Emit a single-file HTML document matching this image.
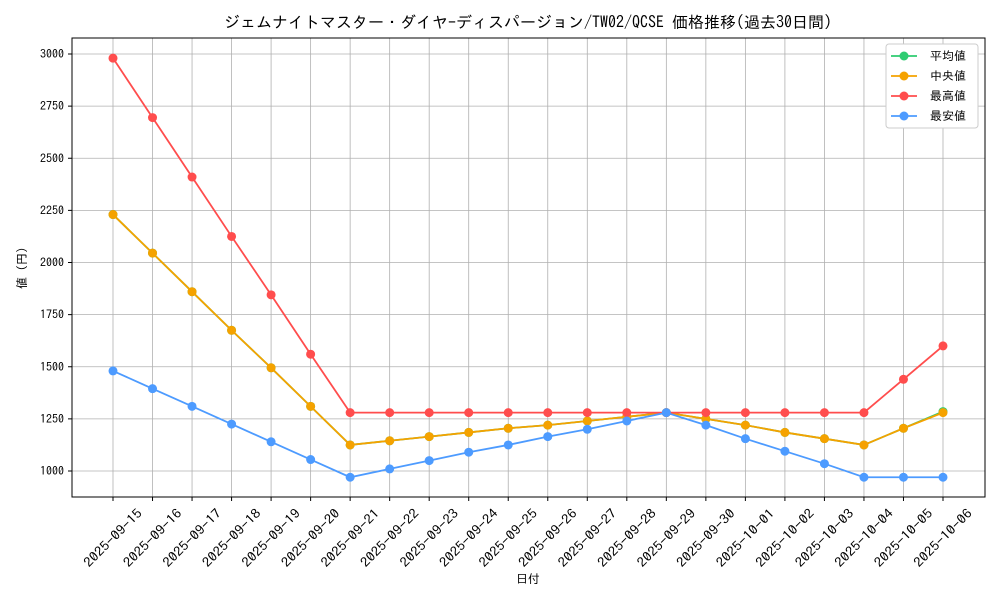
<!DOCTYPE html>
<html><head><meta charset="utf-8"><style>
body{margin:0;background:#fff}
svg{display:block;font-family:"IPAGothic","Noto Sans CJK JP",monospace}
</style></head><body>
<svg id="chart" width="1000" height="600">
<rect width="1000" height="600" fill="#fff"/>
<text x="528" y="28" text-anchor="middle" font-size="16" fill="#000">ジェムナイトマスター・ダイヤ-ディスパージョン/TW02/QCSE 価格推移(過去30日間)</text>
<g id="grid"></g><g id="axes"></g><g id="series"></g>
<rect x="72" y="38" width="913" height="459" fill="none" stroke="#000" stroke-width="1"/>
<text x="528" y="583" text-anchor="middle" font-size="12">日付</text>
<text transform="translate(26,268) rotate(-90)" text-anchor="middle" font-size="12">値 (円)</text>
<g id="legend"></g>
</svg>
<script>
const categories=["2025-09-15","2025-09-16","2025-09-17","2025-09-18","2025-09-19","2025-09-20","2025-09-21","2025-09-22","2025-09-23","2025-09-24","2025-09-25","2025-09-26","2025-09-27","2025-09-28","2025-09-29","2025-09-30","2025-10-01","2025-10-02","2025-10-03","2025-10-04","2025-10-05","2025-10-06"];
const meanVals=[2230,2045,1860,1675,1495,1310,1125,1145,1165,1185,1205,1220,1240,1260,1280,1250,1220,1185,1155,1125,1205,1285];
const medianVals=[2230,2045,1860,1675,1495,1310,1125,1145,1165,1185,1205,1220,1240,1260,1280,1250,1220,1185,1155,1125,1205,1280];
const maxVals=[2980,2695,2410,2125,1845,1560,1280,1280,1280,1280,1280,1280,1280,1280,1280,1280,1280,1280,1280,1280,1440,1600];
const minVals=[1480,1395,1310,1225,1140,1055,970,1010,1050,1090,1125,1165,1200,1240,1280,1220,1155,1095,1035,970,970,970];
const yTicks=[1000,1250,1500,1750,2000,2250,2500,2750,3000];
const seriesNames=["平均値","中央値","最高値","最安値"];
const NS="http://www.w3.org/2000/svg";
const x=i=>113+i*(943-113)/(categories.length-1);
const y=v=>471-(v-1000)*(471-54)/2000;
function mk(tag,attrs,parent,txt){const e=document.createElementNS(NS,tag);for(const k in attrs)e.setAttribute(k,attrs[k]);if(txt!==undefined)e.textContent=txt;parent.appendChild(e);return e;}
const grid=document.getElementById('grid'),axes=document.getElementById('axes'),ser=document.getElementById('series'),leg=document.getElementById('legend');
yTicks.forEach(t=>{
 const l=mk('line',{x1:72,x2:985,y1:y(t),y2:y(t),stroke:'#b0b0b0','stroke-width':0.8},grid);
 
 
 mk('line',{x1:68,x2:72,y1:y(t),y2:y(t),stroke:'#000'},axes);
 const tx=mk('text',{x:64,y:y(t)+4,'text-anchor':'end','font-size':12},axes,String(t));
 
 
});
categories.forEach((c,i)=>{
 const l=mk('line',{x1:x(i),x2:x(i),y1:38,y2:497,stroke:'#b0b0b0','stroke-width':0.8},grid);
 
 
 mk('line',{x1:x(i),x2:x(i),y1:497,y2:501,stroke:'#000'},axes);
 const tx=mk('text',{transform:`translate(${x(i)},${538}) rotate(-45)`,'text-anchor':'middle','dominant-baseline':'central','font-size':13,textLength:76,lengthAdjust:'spacingAndGlyphs'},axes,c);
 
 
});
const all=[[meanVals,'#2ecc71'],[medianVals,'#f5a200'],[maxVals,'#ff4d4d'],[minVals,'#4d9bff']];
all.forEach(([vals,col],s)=>{
 const g=mk('g',{},ser);
 
 
 mk('polyline',{points:vals.map((v,i)=>x(i)+','+y(v)).join(' '),fill:'none',stroke:col,'stroke-width':1.8},g);
 vals.forEach((v,i)=>{
  const p=mk('circle',{cx:x(i),cy:y(v),r:4.5,fill:col},g);
  
  
 });
});
const box=mk('rect',{x:886,y:44,width:92,height:84,fill:'#fff',stroke:'#ccc',rx:3},leg);


all.forEach(([v,col],s)=>{
 const yy=56+s*20;
 const g=mk('g',{},leg);
 
 
 mk('line',{x1:891,x2:917,y1:yy,y2:yy,stroke:col,'stroke-width':1.8},g);
 mk('circle',{cx:904,cy:yy,r:4.5,fill:col},g);
 mk('text',{x:930,y:yy+4,'font-size':12},g,seriesNames[s]);
});
</script>
</body></html>
